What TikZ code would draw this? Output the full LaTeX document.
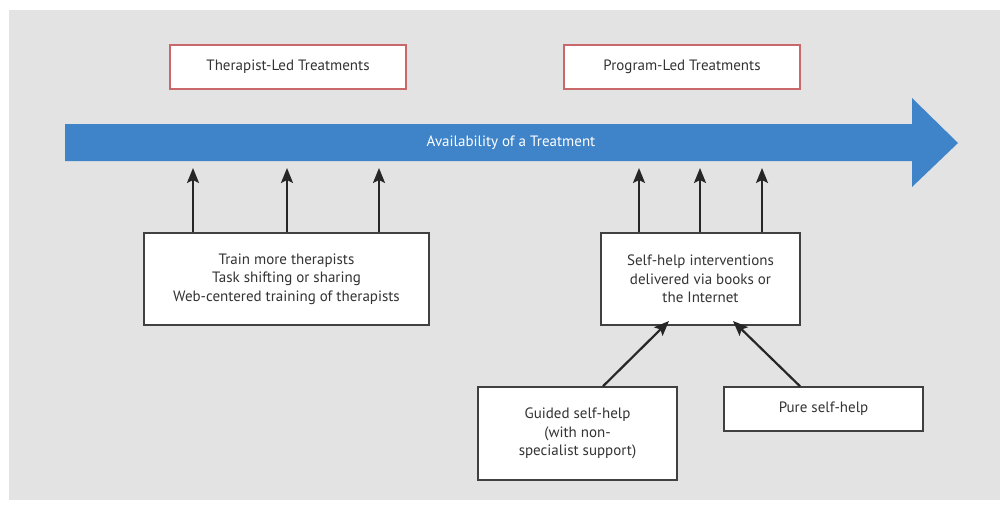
\documentclass[tikz,border=0pt]{standalone}
\usepackage{fontspec}
\setmainfont{PT Sans}
\usetikzlibrary{arrows.meta}
\definecolor{bggray}{HTML}{E3E3E3}
\definecolor{barblue}{HTML}{3F84C8}
\definecolor{boxred}{HTML}{C8686A}
\definecolor{txtgray}{HTML}{333333}
\begin{document}
\begin{tikzpicture}[x=1pt,y=-1pt,
  every node/.style={font=\fontsize{15}{18.7}\selectfont, text=txtgray},
  headbox/.style={draw=boxred, line width=1.5pt, fill=white, inner sep=0pt},
  plainbox/.style={draw=black!75, line width=1.5pt, fill=white, inner sep=0pt, align=center},
  uparrow/.style={draw=black!85, line width=2.2pt, -{Stealth[length=15pt,width=12pt,inset=3pt]}}
]
\useasboundingbox (0,0) rectangle (1000,506);
\fill[white] (0,0) rectangle (1000,506);
\fill[bggray] (9,10) rectangle (1000,500);

% heading boxes
\node[headbox, minimum width=236pt, minimum height=44pt] (thl) at (288,67) {Therapist-Led Treatments};
\node[headbox, minimum width=236pt, minimum height=44pt] (prl) at (682,67) {Program-Led Treatments};

% availability arrow
\fill[barblue] (65,124) -- (912,124) -- (912,98) -- (958,143) -- (912,187) -- (912,161) -- (65,161) -- cycle;
\node[text=white] (avail) at (511,143) {Availability of a Treatment};

% lower boxes
\node[plainbox, minimum width=285pt, minimum height=92pt] (lbox) at (286.5,279)
  {Train more therapists\\Task shifting or sharing\\Web-centered training of therapists};
\node[plainbox, minimum width=199pt, minimum height=92pt] (rbox) at (700.5,279)
  {Self-help interventions\\delivered via books or\\the Internet};
\node[plainbox, minimum width=199pt, minimum height=93pt] (gbox) at (577.5,433.5)
  {Guided self-help\\(with non-\\specialist support)};
\node[plainbox, minimum width=199pt, minimum height=44pt] (pbox) at (823.5,409)
  {Pure self-help};

% arrow targets just below the bar
\coordinate (a1) at (193,168);
\coordinate (a2) at (287,168);
\coordinate (a3) at (379,168);
\coordinate (b1) at (639,168);
\coordinate (b2) at (700,168);
\coordinate (b3) at (762,168);
\coordinate (g1) at (603,387);
\coordinate (g2) at (669,321);
\coordinate (p1) at (800,387);
\coordinate (p2) at (733,321);

\foreach \c in {a1,a2,a3} \draw[uparrow] (lbox.north -| \c) -- (\c);
\foreach \c in {b1,b2,b3} \draw[uparrow] (rbox.north -| \c) -- (\c);
\draw[uparrow] (gbox.north -| g1) -- (g2);
\draw[uparrow] (pbox.north -| p1) -- (p2);
\end{tikzpicture}
\end{document}
